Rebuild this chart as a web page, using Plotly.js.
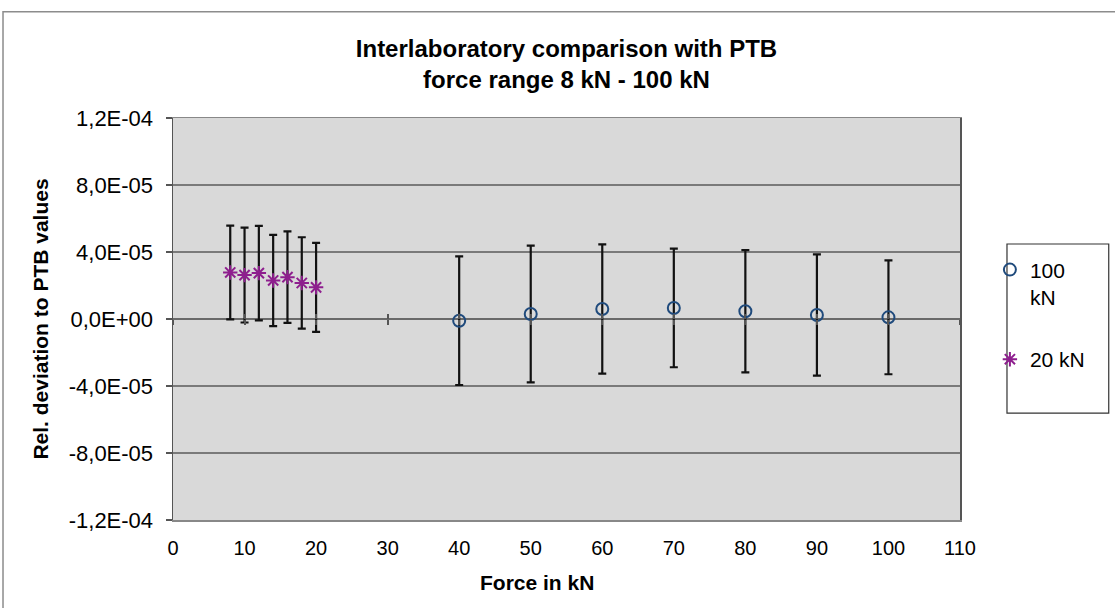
<!DOCTYPE html>
<html>
<head>
<meta charset="utf-8">
<script src="https://cdn.plot.ly/plotly-3.0.1.min.js"></script>
<style>html,body{margin:0;padding:0;background:#fff;}#chart{width:1115px;height:608px;}</style>
</head>
<body>
<div id="chart"></div>
<script>
// ---- data ----
const force100 = [40, 50, 60, 70, 80, 90, 100];
const dev100 = [-1.0e-6, 3.0e-6, 6.0e-6, 6.6e-6, 4.6e-6, 2.4e-6, 1.0e-6];
const unc100 = [38.4e-6, 40.8e-6, 38.6e-6, 35.4e-6, 36.5e-6, 36.2e-6, 34.0e-6];

const force20 = [8, 10, 12, 14, 16, 18, 20];
const dev20 = [27.8e-6, 26.2e-6, 27.4e-6, 23.0e-6, 25.0e-6, 21.5e-6, 18.9e-6];
const unc20 = [28.0e-6, 28.3e-6, 28.2e-6, 27.2e-6, 27.3e-6, 27.3e-6, 26.6e-6];

const xTickVals = [0, 10, 20, 30, 40, 50, 60, 70, 80, 90, 100, 110];
const yTickVals = [-1.2e-4, -8e-5, -4e-5, 0, 4e-5, 8e-5, 1.2e-4];
const yTickText = ["-1,2E-04", "-8,0E-05", "-4,0E-05", "0,0E+00", "4,0E-05", "8,0E-05", "1,2E-04"];

const seriesNames = ["100<br>kN", "20 kN"];
const titleText = "Interlaboratory comparison with PTB<br>force range 8 kN - 100 kN";
const xTitle = "Force in kN";
const yTitle = "Rel. deviation to PTB values";

const FONT = "Liberation Sans, Arial, sans-serif";
const xRange = [0, 110];
const yRange = [-1.2e-4, 1.2e-4];

const traces = [
  {
    x: force100, y: dev100, name: seriesNames[0], type: "scatter", mode: "markers",
    legendgroup: "a",
    marker: {symbol: "circle-open", size: 12, color: "#1F4A7C", line: {width: 2, color: "#1F4A7C"}},
    error_y: {type: "data", array: unc100, visible: true, color: "#111", thickness: 2.2, width: 4}
  },
  {
    x: force20, y: dev20, name: seriesNames[1], type: "scatter", mode: "markers",
    legendgroup: "b",
    marker: {symbol: "asterisk-open", size: 12, color: "#8E1E8E", line: {width: 2, color: "#8E1E8E"}},
    error_y: {type: "data", array: unc20, visible: true, color: "#111", thickness: 2.2, width: 4}
  },
  // empty helper traces so the zero-crossing tick axes get drawn
  {x: [], y: [], xaxis: "x2", yaxis: "y", type: "scatter", mode: "markers", showlegend: false, hoverinfo: "skip"},
  {x: [], y: [], xaxis: "x3", yaxis: "y", type: "scatter", mode: "markers", showlegend: false, hoverinfo: "skip"}
];

const tickAxis = (dir) => ({
  overlaying: "x", anchor: "free", position: 0.5, side: "bottom",
  range: xRange, tickvals: xTickVals, ticks: dir, ticklen: 5, tickwidth: 2, tickcolor: "#555",
  showticklabels: false, showgrid: false, zeroline: false, showline: false
});

const layout = {
  width: 1115, height: 608,
  margin: {l: 173, r: 155, t: 118, b: 88},
  paper_bgcolor: "#ffffff",
  plot_bgcolor: "#D9D9D9",
  font: {family: FONT, color: "#000", size: 20},
  title: {
    text: titleText, x: 0.5, xref: "paper", xanchor: "center",
    y: 1 - 57 / 608, yref: "container", yanchor: "middle",
    font: {family: FONT, size: 24, weight: "bold", color: "#000"}
  },
  showlegend: true,
  legend: {
    x: 1.038, xanchor: "left", y: 0.673, yanchor: "top",
    bgcolor: "rgba(0,0,0,0)", borderwidth: 0,
    font: {family: FONT, size: 21, color: "#000"},
    traceorder: "grouped", tracegroupgap: 32, valign: "top"
  },
  xaxis: {
    range: xRange, tickvals: xTickVals, ticktext: xTickVals.map(String),
    ticks: "", ticklabelstandoff: 9,
    showgrid: false, zeroline: false,
    showline: true, linecolor: "#888", linewidth: 1.5, mirror: true,
    tickfont: {family: FONT, size: 20, color: "#000"}
  },
  xaxis2: tickAxis("outside"),
  xaxis3: tickAxis("inside"),
  yaxis: {
    range: yRange, tickvals: yTickVals, ticktext: yTickText,
    ticks: "outside", ticklen: 6, tickwidth: 1.5, tickcolor: "#555",
    ticklabelstandoff: 8,
    showgrid: true, gridcolor: "#7A7A7A", gridwidth: 1.6,
    zeroline: true, zerolinecolor: "#6A6A6A", zerolinewidth: 2,
    showline: true, linecolor: "#555", linewidth: 1.5, mirror: true,
    tickfont: {family: FONT, size: 22, color: "#000"},
    title: {text: yTitle, font: {family: FONT, size: 21, weight: "bold"}, standoff: 14}
  },
  annotations: [
    {text: xTitle, xref: "paper", yref: "paper", x: (537 - 173) / 787, y: (520 - 582) / 402,
     xanchor: "center", yanchor: "middle", showarrow: false,
     font: {family: FONT, size: 21, weight: "bold", color: "#000"}}
  ],
  shapes: [
    // outer chart frame
    {type: "rect", xref: "paper", yref: "paper", x0: -0.216, x1: 1.25, y0: -0.3, y1: 1.264,
     line: {color: "#8C8C8C", width: 1.5}, fillcolor: "rgba(0,0,0,0)", layer: "below"},
    // legend frame
    {type: "rect", xref: "paper", yref: "paper", x0: 1.0597, x1: 1.189, y0: 0.266, y1: 0.6866,
     line: {color: "#333", width: 1.2}, fillcolor: "#fff", layer: "below"}
  ]
};

Plotly.newPlot("chart", traces, layout, {displayModeBar: false, staticPlot: true});
</script>
</body>
</html>
